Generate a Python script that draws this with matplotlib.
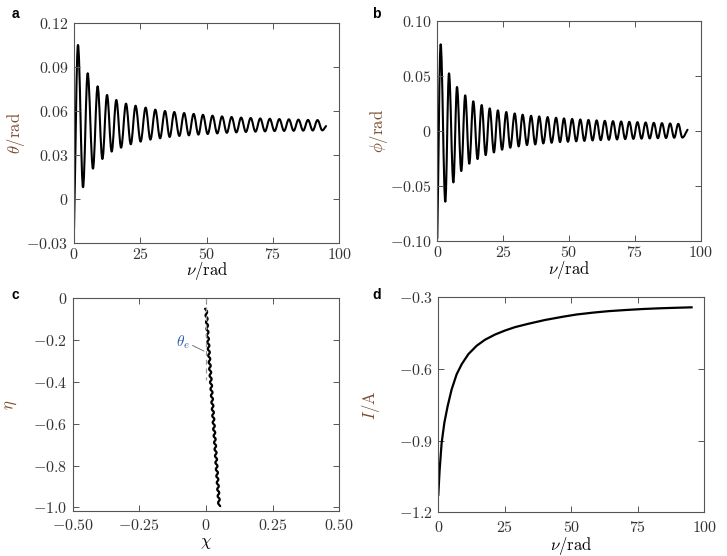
import numpy as np
import matplotlib
matplotlib.use("Agg")
import matplotlib.pyplot as plt
from matplotlib.path import Path
from matplotlib.patches import PathPatch

plt.rcParams["mathtext.fontset"] = "cm"

# ---- panel a: theta vs nu (extrema)
a_start = (0.0, -0.021)
a_end = (95.0, 0.0495)
a_peak_nu = [1.5, 5.15, 8.9, 12.45, 15.95, 19.6, 23.2, 27.0, 30.65, 34.3, 37.8, 41.5, 45.1,
             48.6, 52.2, 55.8, 59.4, 63.0, 66.6, 70.2, 73.8, 77.4, 81.0, 84.6, 88.2, 91.8]
a_peak = [0.1048, 0.0855, 0.0766, 0.0707, 0.0673, 0.0648, 0.0634, 0.0621, 0.0607, 0.0598,
          0.0591, 0.0584, 0.0578, 0.0572, 0.0566, 0.0561, 0.0557, 0.0553, 0.0550, 0.0547,
          0.0545, 0.0543, 0.0541, 0.0539, 0.0537, 0.0536]
a_trough_nu = [3.4, 7.15, 10.7, 14.2, 17.75, 21.4, 25.1, 28.8, 32.45, 36.05, 39.7, 43.3, 46.9,
               50.4, 54.0, 57.6, 61.2, 64.8, 68.4, 72.0, 75.6, 79.2, 82.8, 86.4, 90.0, 93.6]
a_trough = [0.0078, 0.0205, 0.0271, 0.0321, 0.0348, 0.0371, 0.0389, 0.0403, 0.0412, 0.0421,
            0.0428, 0.0432, 0.0437, 0.0441, 0.0445, 0.0449, 0.0452, 0.0455, 0.0457, 0.0459,
            0.0461, 0.0462, 0.0463, 0.0464, 0.0465, 0.0466]

# ---- panel b: phi vs nu
b_start = (0.0, -0.0976)
b_end = (95.0, 0.001)
b_peak_nu = [1.28, 4.44, 7.48, 10.6, 13.67, 16.85, 19.9, 23.0, 26.2, 29.4, 32.4, 35.6, 38.7,
             41.9, 45.1, 48.1, 51.2, 54.3, 57.4, 60.5, 63.6, 66.7, 69.8, 72.9, 76.0, 79.1,
             82.2, 85.3, 88.4, 91.5]
b_peak = [0.0785, 0.0522, 0.0398, 0.0322, 0.0268, 0.0234, 0.0204, 0.0186, 0.0171, 0.0158,
          0.0147, 0.0137, 0.0131, 0.0125, 0.0119, 0.0113, 0.0108, 0.0103, 0.0099, 0.0095,
          0.0091, 0.0088, 0.0085, 0.0082, 0.0079, 0.0076, 0.0073, 0.0070, 0.0067, 0.0064]
b_trough_nu = [3.04, 6.1, 9.1, 12.15, 15.3, 18.37, 21.5, 24.6, 27.7, 30.9, 34.05, 37.2, 40.25,
               43.4, 46.6, 49.6, 52.75, 55.85, 58.95, 62.05, 65.15, 68.25, 71.35, 74.45,
               77.55, 80.65, 83.75, 86.85, 89.95, 93.05]
b_trough = [-0.0643, -0.0468, -0.0365, -0.0298, -0.0256, -0.0220, -0.0196, -0.0171, -0.0153,
            -0.0141, -0.0129, -0.0123, -0.0114, -0.0108, -0.0102, -0.0099, -0.0095, -0.0091,
            -0.0087, -0.0084, -0.0081, -0.0078, -0.0075, -0.0073, -0.0071, -0.0069, -0.0067,
            -0.0065, -0.0063, -0.0061]

# ---- panel c: trajectory (wiggle vertices)
c_eta = [-0.050, -0.066, -0.082, -0.098, -0.114, -0.130, -0.146, -0.162, -0.178, -0.194,
         -0.210, -0.226, -0.242, -0.258, -0.274, -0.290, -0.306, -0.322, -0.338, -0.354,
         -0.370, -0.386, -0.402, -0.418, -0.434, -0.450, -0.466, -0.482, -0.498, -0.514,
         -0.530, -0.546, -0.562, -0.578, -0.594, -0.610, -0.626, -0.642, -0.658, -0.674,
         -0.690, -0.706, -0.722, -0.738, -0.754, -0.770, -0.786, -0.802, -0.818, -0.834,
         -0.850, -0.866, -0.882, -0.898, -0.914, -0.930, -0.946, -0.962, -0.978, -0.994]
c_chi = [-0.0035, 0.0043, -0.0018, 0.0060, -0.0001, 0.0077, 0.0016, 0.0094, 0.0032, 0.0111,
         0.0049, 0.0128, 0.0066, 0.0144, 0.0083, 0.0161, 0.0100, 0.0178, 0.0117, 0.0195,
         0.0133, 0.0212, 0.0150, 0.0229, 0.0167, 0.0246, 0.0184, 0.0262, 0.0201, 0.0279,
         0.0218, 0.0296, 0.0234, 0.0313, 0.0251, 0.0330, 0.0268, 0.0347, 0.0285, 0.0363,
         0.0302, 0.0380, 0.0319, 0.0397, 0.0336, 0.0414, 0.0352, 0.0431, 0.0369, 0.0448,
         0.0386, 0.0464, 0.0403, 0.0481, 0.0420, 0.0498, 0.0436, 0.0515, 0.0453, 0.0532]

# ---- panel d: current vs nu
d_nu = [0.0, 0.5, 1.25, 2.26, 3.5, 5.0, 6.9, 8.8, 11.3, 14.4, 17.5, 21.3, 25.1, 28.8, 33.8,
        40.1, 47.0, 52.0, 58.3, 64.0, 70.8, 77.0, 83.3, 89.0, 95.2]
d_I = [-1.127, -1.022, -0.910, -0.826, -0.756, -0.686, -0.622, -0.580, -0.538, -0.503,
       -0.478, -0.456, -0.439, -0.425, -0.411, -0.395, -0.381, -0.372, -0.364, -0.358,
       -0.353, -0.349, -0.346, -0.344, -0.342]

# ticks
nu_ticks = [0, 25, 50, 75, 100]
nu_labels = ["0", "25", "50", "75", "100"]
a_yticks = [-0.03, 0, 0.03, 0.06, 0.09, 0.12]
a_ylabels = ["-0.03", "0", "0.03", "0.06", "0.09", "0.12"]
b_yticks = [-0.10, -0.05, 0, 0.05, 0.10]
b_ylabels = ["-0.10", "-0.05", "0", "0.05", "0.10"]
c_xticks = [-0.5, -0.25, 0, 0.25, 0.5]
c_xlabels = ["-0.50", "-0.25", "0", "0.25", "0.50"]
c_yticks = [0, -0.2, -0.4, -0.6, -0.8, -1.0]
c_ylabels = ["0", "-0.2", "-0.4", "-0.6", "-0.8", "-1.0"]
d_yticks = [-0.3, -0.6, -0.9, -1.2]
d_ylabels = ["-0.3", "-0.6", "-0.9", "-1.2"]

LABEL_COL = "#7a4a2e"
TICK_COL = "#333333"
SPINE_COL = "#555555"
K = 1 - 2 / np.pi   # bezier handle length for a sine-like half wave


def mt(s):
    return "$" + s + "$"


def merge(start, pk_x, pk_y, tr_x, tr_y, end):
    xs, ys = [start[0]], [start[1]]
    for px, py, tx, ty in zip(pk_x, pk_y, tr_x, tr_y):
        xs += [px, tx]
        ys += [py, ty]
    xs.append(end[0])
    ys.append(end[1])
    return xs, ys


def wave_path(xs, ys, along_x=True):
    # smooth cubic segments between the read extrema, flat at each extremum
    verts = [(xs[0], ys[0])]
    codes = [Path.MOVETO]
    n = len(xs)
    for i in range(n - 1):
        x0, y0, x1, y1 = xs[i], ys[i], xs[i + 1], ys[i + 1]
        if along_x:
            d = (x1 - x0) * K
            c1 = (x0 + d, y0) if i > 0 else (x0 + d, y0 + (y1 - y0) * K)
            c2 = (x1 - d, y1) if i < n - 2 else (x1 - d, y1 - (y1 - y0) * K)
        else:
            d = (y1 - y0) * K
            c1 = (x0, y0 + d) if i > 0 else (x0 + (x1 - x0) * K, y0 + d)
            c2 = (x1, y1 - d) if i < n - 2 else (x1 - (x1 - x0) * K, y1 - d)
        verts += [c1, c2, (x1, y1)]
        codes += [Path.CURVE4] * 3
    return Path(verts, codes)


def style(ax, xt, xl, yt, yl, xpad=3):
    ax.set_xticks(xt)
    ax.set_xticklabels([mt(s) for s in xl])
    ax.set_yticks(yt)
    ax.set_yticklabels([mt(s) for s in yl])
    ax.tick_params(direction="in", top=True, right=True, length=4, width=0.7,
                   color=SPINE_COL, labelcolor=TICK_COL, labelsize=11.5, pad=4)
    ax.tick_params(axis="x", pad=xpad)
    for sp in ax.spines.values():
        sp.set_color(SPINE_COL)
        sp.set_linewidth(0.8)


fig = plt.figure(figsize=(7.27, 5.56), dpi=100)
ax_a = fig.add_axes([0.1018, 0.5635, 0.3649, 0.3957])
ax_b = fig.add_axes([0.6015, 0.5665, 0.3623, 0.3963])
ax_c = fig.add_axes([0.1000, 0.0818, 0.3667, 0.3817])
ax_d = fig.add_axes([0.6029, 0.0786, 0.3659, 0.3867])

# a
x, y = merge(a_start, a_peak_nu, a_peak, a_trough_nu, a_trough, a_end)
ax_a.add_patch(PathPatch(wave_path(x, y), fill=False, edgecolor="black", lw=1.5,
                         joinstyle="round", capstyle="round"))
ax_a.set_xlim(0, 100)
ax_a.set_ylim(-0.03, 0.12)
style(ax_a, nu_ticks, nu_labels, a_yticks, a_ylabels)
ax_a.set_xlabel(r"$\nu/\mathrm{rad}$", fontsize=12, labelpad=-1)
ax_a.set_ylabel(r"$\theta/\mathrm{rad}$", fontsize=12, color=LABEL_COL)
ax_a.yaxis.set_label_coords(-0.177, 0.5)

# b
x, y = merge(b_start, b_peak_nu, b_peak, b_trough_nu, b_trough, b_end)
ax_b.add_patch(PathPatch(wave_path(x, y), fill=False, edgecolor="black", lw=1.5,
                         joinstyle="round", capstyle="round"))
ax_b.set_xlim(0, 100)
ax_b.set_ylim(-0.10, 0.10)
style(ax_b, nu_ticks, nu_labels, b_yticks, b_ylabels)
ax_b.set_xlabel(r"$\nu/\mathrm{rad}$", fontsize=12, labelpad=-1)
ax_b.set_ylabel(r"$\phi/\mathrm{rad}$", fontsize=12, color=LABEL_COL)
ax_b.yaxis.set_label_coords(-0.18, 0.5)

# c
ax_c.plot([0, 0], [0, -0.39], color="#999999", lw=0.9, dashes=(4, 3))
ax_c.add_patch(PathPatch(wave_path(c_chi, c_eta, along_x=False), fill=False,
                         edgecolor="black", lw=1.6, joinstyle="round", capstyle="round"))
ax_c.plot([-0.05, -0.008], [-0.226, -0.252], color="#777777", lw=0.7)
ax_c.text(-0.06, -0.21, r"$\theta_e$", fontsize=11, color="#2a5aa8", ha="right", va="center")
ax_c.set_xlim(-0.5, 0.5)
ax_c.set_ylim(-1.015, 0)
style(ax_c, c_xticks, c_xlabels, c_yticks, c_ylabels, xpad=5.5)
ax_c.set_xlabel(r"$\chi$", fontsize=12, labelpad=0)
ax_c.set_ylabel(r"$\eta$", fontsize=12, color=LABEL_COL)
ax_c.yaxis.set_label_coords(-0.201, 0.5)

# d
ax_d.plot(d_nu, d_I, color="black", lw=1.6, solid_joinstyle="round")
ax_d.set_xlim(0, 100)
ax_d.set_ylim(-1.2, -0.3)
style(ax_d, nu_ticks, nu_labels, d_yticks, d_ylabels, xpad=5.5)
ax_d.set_xlabel(r"$\nu/\mathrm{rad}$", fontsize=12, labelpad=0)
ax_d.set_ylabel(r"$I/\mathrm{A}$", fontsize=12, color=LABEL_COL)
ax_d.yaxis.set_label_coords(-0.212, 0.5)

for lab, (px, py) in zip(["a", "b", "c", "d"], [(12, 14), (372, 14), (12, 295), (372, 295)]):
    fig.text(px / 727, 1 - py / 556, lab, fontsize=10, fontweight="bold",
             family="Liberation Sans", ha="left", va="center")

fig.savefig("out.png", dpi=100)
